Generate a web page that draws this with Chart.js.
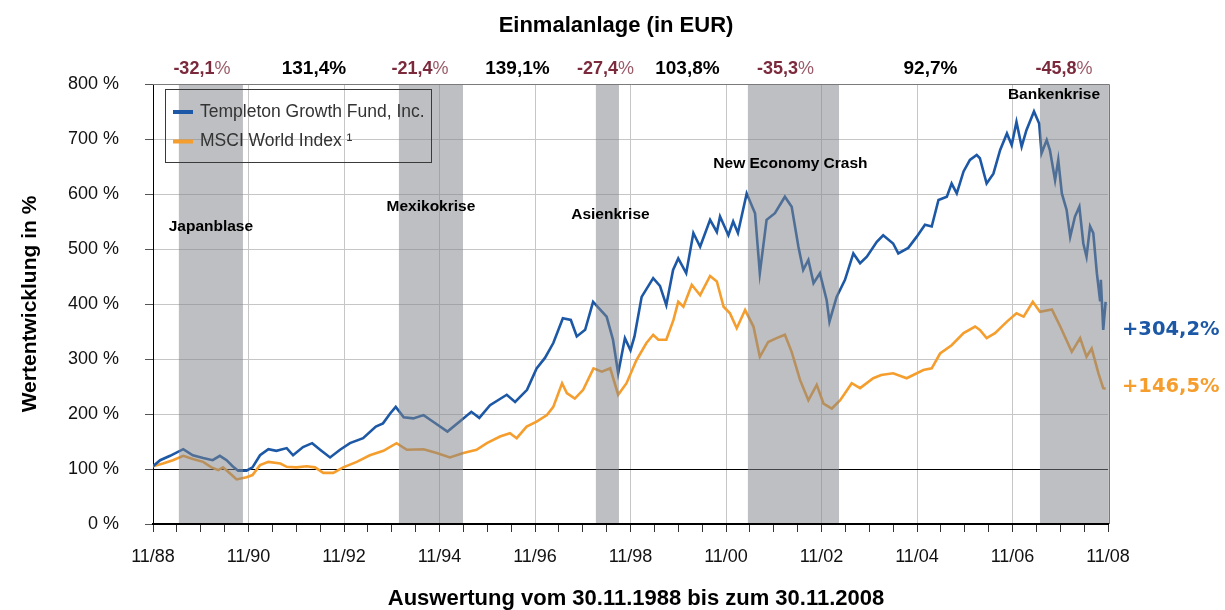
<!DOCTYPE html>
<html>
<head>
<meta charset="utf-8">
<script src="https://cdn.jsdelivr.net/npm/chart.js@4.4.1/dist/chart.umd.min.js"></script>
<style>
  body { margin: 0; background: #fff; }
  #contenedor { width: 1225px; height: 610px; }
</style>
</head>
<body>
<div id="contenedor"><canvas id="grafico" width="1225" height="610"></canvas></div>
<script>
// Monate seit dem 30.11.1988 (0 = 11/88, 240 = 11/08), Werte in %
const fundMonths = [0, 1.8, 4.3, 7.6, 10, 12.6, 15, 16.8, 18.5, 20,
  21.4, 23.5, 25, 26.9, 29, 31, 33.6, 35.2, 37.7, 40,
  42, 44.5, 47, 49.5, 52.8, 56, 57.8, 59.6, 61, 63,
  65.4, 68, 70.4, 74, 77, 80, 82, 84.7, 88.9, 91,
  94, 96.4, 98.5, 100.6, 103, 105, 106.5, 108.6, 110.6, 114,
  115.6, 116.9, 118.6, 120, 121, 122.8, 125.7, 127.4, 129, 130.7,
  132, 134, 135.8, 137.5, 140, 141.7, 142.5, 144.6, 145.8, 147,
  149.2, 151.3, 152.5, 154.2, 156.3, 158.8, 160.5, 162.2, 163.4, 164.7,
  166, 167.6, 169.3, 170, 171.8, 173.9, 176, 177.7, 179.4, 181.9,
  183.5, 186, 187.3, 189.8, 191.9, 194, 195.7, 197.4, 199.5, 200.7,
  202, 203.7, 205.3, 207, 207.8, 209.5, 211.2, 212.9, 214.6, 215.8,
  217, 218.3, 219.5, 221.4, 222.7, 223.3, 224.6, 225.4, 226.7, 227.5,
  228.4, 229.6, 230.5, 231.7, 232.8, 233.8, 234.6, 235.5, 236.3, 237.2,
  238, 238.2, 238.8, 239.4];
const fundValues = [105, 116, 124, 136, 125, 120, 116, 124, 116, 105,
  97, 97, 103, 125, 136, 133, 138, 125, 140, 147,
  135, 121, 135, 147, 156, 177, 183, 201, 213, 194,
  192, 198, 186, 168, 186, 204, 193, 216, 235, 222,
  244, 283, 302, 329, 374, 371, 341, 353, 404, 377,
  335, 274, 338, 316, 341, 413, 447, 433, 398, 462,
  483, 456, 529, 504, 553, 531, 559, 525, 550, 529,
  601, 565, 456, 553, 565, 595, 577, 504, 462, 480,
  438, 456, 407, 368, 413, 444, 492, 474, 486, 513,
  525, 510, 492, 502, 522, 544, 541, 589, 595, 619,
  601, 641, 662, 671, 665, 619, 637, 680, 710, 689,
  731, 686, 716, 750, 728, 674, 698, 680, 625, 662,
  601, 571, 522, 559, 577, 510, 486, 541, 529, 456,
  407, 444, 353, 404];

const indexMonths = [0, 2.5, 5, 7.6, 10, 12.6, 14.7, 16.4, 17.6, 19.8,
  21, 23.5, 25, 26.9, 29, 32, 33.6, 36, 38.6, 40.7,
  42.8, 45.3, 47.8, 51.2, 54.5, 57.9, 61.2, 63.8, 68, 71.3,
  74.6, 78, 81.3, 83.9, 87.2, 89.7, 91.4, 93.9, 96.4, 99,
  100.6, 102.8, 104, 106, 108.1, 110.7, 112.8, 114.9, 116.9, 119,
  121.5, 124, 125.7, 127, 129, 130.8, 132, 133.3, 135.4, 137.5,
  140, 141.7, 143.4, 145, 146.7, 148.8, 150.9, 152.5, 154.6, 156.7,
  158.8, 160.5, 162.6, 164.7, 166.8, 168.5, 170.6, 172.7, 175.6, 177.7,
  181, 183, 186, 189.4, 193.6, 195.7, 197.8, 200.7, 203.7, 206.6,
  207.8, 209.5, 211.6, 214.6, 217, 218.8, 221.1, 222.9, 225.9, 228,
  230.9, 233, 234.6, 235.9, 237.6, 238.8, 239.4];
const indexValues = [105, 110, 116, 124, 118, 113, 103, 98, 103, 89,
  81, 85, 89, 107, 113, 110, 104, 103, 105, 103,
  93, 93, 103, 113, 125, 133, 147, 135, 136, 129,
  121, 129, 135, 147, 159, 165, 156, 177, 186, 198,
  213, 256, 238, 228, 244, 283, 277, 283, 235, 256,
  298, 329, 344, 335, 335, 371, 404, 395, 435, 416,
  451, 441, 395, 383, 356, 389, 359, 304, 331, 338,
  344, 313, 262, 225, 253, 219, 210, 225, 256, 247,
  265, 271, 274, 265, 280, 283, 310, 325, 347, 359,
  353, 338, 347, 368, 383, 377, 404, 386, 390, 359,
  313, 338, 304, 319, 274, 247, 246];

// Krisen (grau hinterlegt) und Wertentwicklung der Zeiträume
const crisisNames = ['Japanblase', 'Mexikokrise', 'Asienkrise', 'New Economy Crash', 'Bankenkrise'];
const crisisStart = [6.5, 61.8, 111.3, 149.5, 222.9];
const crisisEnd = [22.6, 77.9, 117.1, 172.4, 240];
const crisisReturns = ['-32,1', '-21,4', '-27,4', '-35,3', '-45,8'];
const recoveryReturns = ['131,4%', '139,1%', '103,8%', '92,7%'];
const finalReturns = ['+304,2%', '+146,5%'];

const FUENTE = "'Liberation Sans', Arial, sans-serif";
const AZUL = '#1C58A5';
const NARANJA = '#F59E2E';
const ROJO = '#7B2A3C';

const decoracion = {
  id: 'decoracion',
  afterDatasetsDraw(chart) {
    const { ctx, chartArea: area, scales: { x, y } } = chart;
    ctx.save();

    // graue Krisenbalken über den Linien
    ctx.fillStyle = 'rgba(128,133,138,0.52)';
    crisisStart.forEach((s, i) => {
      const x0 = x.getPixelForValue(s);
      const x1 = x.getPixelForValue(crisisEnd[i]);
      ctx.fillRect(x0, area.top + 1, x1 - x0, area.bottom - area.top - 2);
    });

    // Rahmen oben / rechts
    ctx.strokeStyle = '#7a7a7a';
    ctx.lineWidth = 1;
    ctx.beginPath();
    ctx.moveTo(area.left, area.top + 0.5);
    ctx.lineTo(area.right + 1.5, area.top + 0.5);
    ctx.lineTo(area.right + 1.5, area.bottom);
    ctx.stroke();

    // Legende
    ctx.strokeStyle = '#3a3a3a';
    ctx.strokeRect(165.5, 89.5, 266, 73);
    chart.data.datasets.forEach((ds, i) => {
      const yy = 112 + i * 29.5;
      ctx.strokeStyle = ds.borderColor;
      ctx.lineWidth = 4;
      ctx.beginPath();
      ctx.moveTo(173, yy);
      ctx.lineTo(193, yy);
      ctx.stroke();
      ctx.fillStyle = '#333';
      ctx.font = '17.5px ' + FUENTE;
      ctx.textAlign = 'left';
      ctx.textBaseline = 'middle';
      ctx.fillText(ds.label, 200, yy);
    });

    // Namen der Krisen
    const nivel = [540, 576, 562, 655, 780];
    const desplazar = [0, 0, 3, -3, -20];
    ctx.fillStyle = '#000';
    ctx.font = 'bold 15.5px ' + FUENTE;
    ctx.textAlign = 'center';
    ctx.textBaseline = 'middle';
    crisisNames.forEach((nombre, i) => {
      const cx = (x.getPixelForValue(crisisStart[i]) + x.getPixelForValue(crisisEnd[i])) / 2 + desplazar[i];
      ctx.fillText(nombre, cx, y.getPixelForValue(nivel[i]));
    });

    // Wertentwicklung oberhalb
    ctx.textBaseline = 'alphabetic';
    const baseY = 74;
    const despNeg = [-9, -11, -2, -8, -10];
    crisisReturns.forEach((txt, i) => {
      const cx = (x.getPixelForValue(crisisStart[i]) + x.getPixelForValue(crisisEnd[i])) / 2 + despNeg[i];
      ctx.font = 'bold 18px ' + FUENTE;
      const w1 = ctx.measureText(txt).width;
      ctx.font = '18px ' + FUENTE;
      const w2 = ctx.measureText('%').width;
      const x0 = cx - (w1 + w2) / 2;
      ctx.fillStyle = ROJO;
      ctx.textAlign = 'left';
      ctx.font = 'bold 18px ' + FUENTE;
      ctx.fillText(txt, x0, baseY);
      ctx.font = '18px ' + FUENTE;
      ctx.fillStyle = '#9a5a68';
      ctx.fillText('%', x0 + w1, baseY);
    });
    const despPos = [-7, -12, 4, -9];
    ctx.fillStyle = '#000';
    ctx.textAlign = 'center';
    ctx.font = 'bold 19px ' + FUENTE;
    recoveryReturns.forEach((txt, i) => {
      const cx = (x.getPixelForValue(crisisEnd[i]) + x.getPixelForValue(crisisStart[i + 1])) / 2 + despPos[i];
      ctx.fillText(txt, cx, baseY);
    });

    // Titel
    ctx.font = 'bold 22px ' + FUENTE;
    ctx.fillText('Einmalanlage (in EUR)', 616, 32);
    ctx.fillText('Auswertung vom 30.11.1988 bis zum 30.11.2008', 636, 605);

    // Achsentitel Y
    ctx.save();
    ctx.translate(30, (area.top + area.bottom) / 2);
    ctx.rotate(-Math.PI / 2);
    ctx.textBaseline = 'middle';
    ctx.font = 'bold 21px ' + FUENTE;
    ctx.fillText('Wertentwicklung in %', 0, 0);
    ctx.restore();

    // Endwerte rechts
    ctx.textAlign = 'left';
    ctx.textBaseline = 'middle';
    ctx.font = "bold 19.5px 'DejaVu Sans', sans-serif";
    ctx.fillStyle = AZUL;
    ctx.fillText(finalReturns[0], 1122, 330);
    ctx.fillStyle = NARANJA;
    ctx.fillText(finalReturns[1], 1122, 387);

    ctx.restore();
  }
};

const ctxGrafico = document.getElementById('grafico');
const grafico = new Chart(ctxGrafico, {
  type: 'line',
  data: {
    datasets: [{
      label: 'Templeton Growth Fund, Inc.',
      data: fundMonths.map((m, i) => ({ x: m, y: fundValues[i] })),
      borderColor: AZUL,
      borderWidth: 2.6,
      pointRadius: 0,
      tension: 0,
    }, {
      label: 'MSCI World Index \u00b9',
      data: indexMonths.map((m, i) => ({ x: m, y: indexValues[i] })),
      borderColor: NARANJA,
      borderWidth: 2.6,
      pointRadius: 0,
      tension: 0,
    }],
  },
  options: {
    responsive: false,
    animation: false,
    layout: { padding: { top: 84, left: 0, right: 117, bottom: 0 } },
    plugins: {
      legend: { display: false },
      tooltip: { enabled: false },
    },
    scales: {
      x: {
        type: 'linear',
        min: 0,
        max: 240,
        afterFit: function (scale) { scale.height = 86; },
        border: { color: '#000', width: 2 },
        grid: {
          color: function (c) { return c.tick && c.tick.value % 24 === 0 ? '#c6c6c6' : 'rgba(0,0,0,0)'; },
          tickColor: '#333',
          tickLength: 8,
        },
        ticks: {
          stepSize: 6,
          autoSkip: false,
          maxRotation: 0,
          padding: 14,
          color: '#111',
          font: { family: FUENTE, size: 18 },
          callback: function (v) {
            if (v % 24 !== 0) return '';
            return '11/' + String((88 + v / 12) % 100).padStart(2, '0');
          },
        },
      },
      y: {
        min: 0,
        max: 800,
        afterFit: function (scale) { scale.width = 153; },
        border: { color: '#000', width: 1 },
        grid: {
          color: function (c) { return c.tick && c.tick.value === 100 ? '#000' : '#c6c6c6'; },
          tickColor: '#555',
          tickLength: 8,
        },
        ticks: {
          stepSize: 100,
          padding: 26,
          color: '#111',
          font: { family: FUENTE, size: 18 },
          callback: function (v) { return v + ' %'; },
        },
      },
    },
  },
  plugins: [decoracion],
});
</script>
</body>
</html>
